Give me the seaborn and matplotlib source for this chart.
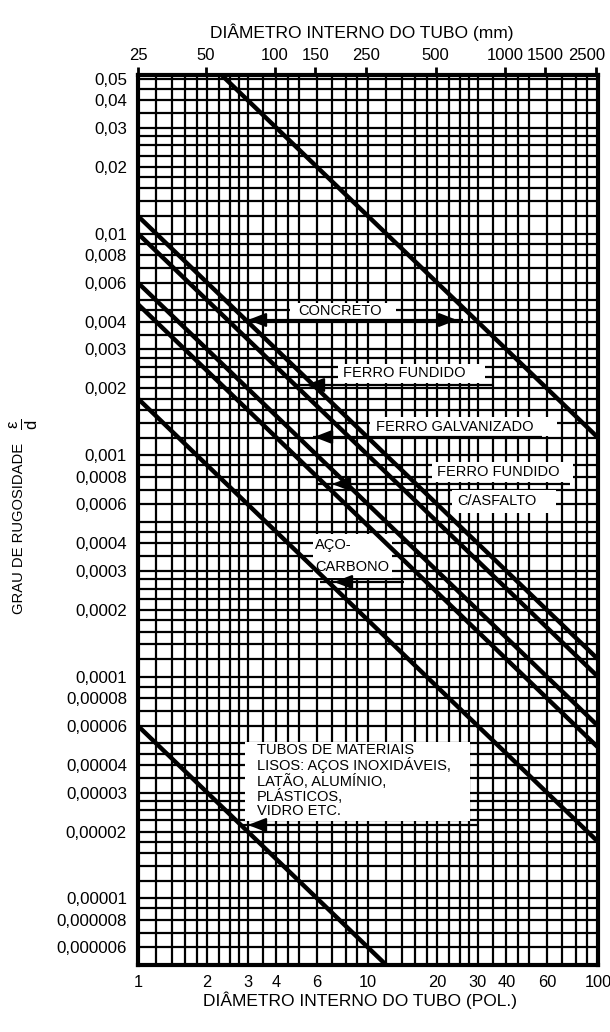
import numpy as np
import pandas as pd
import matplotlib
matplotlib.use("Agg")
import matplotlib.pyplot as plt
import matplotlib.transforms as mtransforms
import seaborn as sns
from matplotlib.patches import Rectangle

# ---------------- data ----------------
materials = ["Concreto (máx.)", "Concreto (mín.)", "Ferro fundido", "Ferro galvanizado",
             "Ferro fundido c/asfalto", "Aço-carbono", "Tubos lisos"]
roughness_in = [0.12, 0.012, 0.010, 0.006, 0.0048, 0.0018, 0.00006]   # absolute roughness (in)
diam_ends_in = [1, 100]                                                 # diameter range (in)

x_ticks = [1, 2, 3, 4, 6, 10, 20, 30, 40, 60, 100]
x_tick_labels = ["1", "2", "3", "4", "6", "10", "20", "30", "40", "60", "100"]
top_ticks_mm = [25.4, 50, 100, 150, 250, 500, 1000, 1500, 2500]
top_tick_labels = ["25", "50", "100", "150", "250", "500", "1000", "1500", "2500"]
y_ticks = [0.05, 0.04, 0.03, 0.02, 0.01, 0.008, 0.006, 0.004, 0.003, 0.002,
           0.001, 0.0008, 0.0006, 0.0004, 0.0003, 0.0002,
           0.0001, 0.00008, 0.00006, 0.00004, 0.00003, 0.00002,
           0.00001, 0.000008, 0.000006]
y_tick_labels = ["0,05", "0,04", "0,03", "0,02", "0,01", "0,008", "0,006", "0,004", "0,003", "0,002",
                 "0,001", "0,0008", "0,0006", "0,0004", "0,0003", "0,0002",
                 "0,0001", "0,00008", "0,00006", "0,00004", "0,00003", "0,00002",
                 "0,00001", "0,000008", "0,000006"]
grid_mantissas = [1, 1.2, 1.4, 1.6, 1.8, 2, 2.25, 2.5, 2.75, 3, 3.5, 4, 4.5, 5, 6, 7, 8, 9]

# ---------------- style ----------------
sns.set_theme(style="white")
plt.rcParams['font.family'] = ['Liberation Sans', 'DejaVu Sans']
plt.rcParams['text.color'] = 'black'
plt.rcParams['mathtext.fontset'] = 'custom'
plt.rcParams['mathtext.rm'] = 'Liberation Sans'
plt.rcParams['mathtext.it'] = 'Liberation Sans'

W, H = 610, 1032
fig = plt.figure(figsize=(W / 100, H / 100), dpi=100)
L, R, T, B = 138, 598, 75, 965
ax = fig.add_axes([L / W, 1 - B / H, (R - L) / W, (B - T) / H])

def A(x, y):
    return ((x - L) / (R - L), (B - y) / (B - T))

rows = []
for m, e in zip(materials, roughness_in):
    for d in diam_ends_in:
        rows.append({"material": m, "diam": d, "rel": e / d})
df = pd.DataFrame(rows)

ax.set_xscale("log")
ax.set_yscale("log")
sns.lineplot(data=df, x="diam", y="rel", hue="material", units="material",
             estimator=None, sort=False, palette=["black"] * len(materials),
             linewidth=3.2, legend=False, ax=ax, zorder=4)

xmin, xmax = 1, 100
ymin, ymax = 5.0e-6, 0.052
ax.set_xlim(xmin, xmax)
ax.set_ylim(ymin, ymax)

xgrid = [m * 10 ** k for k in range(0, 2) for m in grid_mantissas] + [100]
ygrid = [m * 10 ** k for k in range(-6, -1) for m in grid_mantissas]
ygrid = [v for v in ygrid if ymin < v < ymax]

ax.set_xticks(x_ticks)
ax.set_xticklabels(x_tick_labels)
ax.set_xticks(xgrid, minor=True)
ax.set_yticks(y_ticks)
ax.set_yticklabels(y_tick_labels)
ax.set_yticks(ygrid, minor=True)
ax.xaxis.set_minor_formatter(plt.NullFormatter())
ax.yaxis.set_minor_formatter(plt.NullFormatter())
ax.tick_params(axis="x", which="both", length=0, labelsize=11.8, pad=7, colors="black")
ax.tick_params(axis="y", which="both", length=0, labelsize=12.2, pad=8, colors="black")
ax.grid(True, which="both", color="black", linewidth=1.6)
ax.set_axisbelow(True)
for s in ax.spines.values():
    s.set_visible(True)
    s.set_color("black")
    s.set_linewidth(3)
ax.set_xlabel("")
ax.set_ylabel("")

# top axis in mm
ax2 = ax.twiny()
ax2.set_xscale("log")
ax2.set_xlim(xmin * 25.4, xmax * 25.4)
ax2.set_xticks(top_ticks_mm)
ax2.set_xticklabels(top_tick_labels)
ax2.xaxis.set_minor_locator(plt.NullLocator())
ax2.tick_params(axis="x", which="major", length=6, width=2, direction="out",
                labelsize=12, pad=3, colors="black")
for s in ax2.spines.values():
    s.set_visible(False)
# nudge the last top label inward so it stays inside the figure
last_top = ax2.xaxis.get_major_ticks()[-1].label2
last_top.set_transform(last_top.get_transform() +
                       mtransforms.ScaledTranslation(-10 / 100, 0, fig.dpi_scale_trans))

# titles
fig.text(362 / W, 1 - 32 / H, "DIÂMETRO INTERNO DO TUBO (mm)", ha="center", va="center",
         fontsize=12.5, color="black")
fig.text(360 / W, 1 - 1000 / H, "DIÂMETRO INTERNO DO TUBO (POL.)", ha="center", va="center",
         fontsize=12.5, color="black")
fig.text(19 / W, 1 - 528 / H, "GRAU DE RUGOSIDADE", rotation=90, ha="center", va="center",
         fontsize=10.6, color="black")
fig.text(24 / W, 1 - 424 / H, r"$\frac{\epsilon}{d}$", rotation=90, ha="center", va="center",
         fontsize=17, color="black")

# ---------------- annotations ----------------
def box(x0, y0, x1, y1):
    (fx0, fy1), (fx1, fy0) = A(x0, y0), A(x1, y1)
    ax.add_patch(Rectangle((fx0, fy0), fx1 - fx0, fy1 - fy0, transform=ax.transAxes,
                           facecolor="white", edgecolor="none", zorder=3))

def label(x, y, s, ha="center", **kw):
    fx, fy = A(x, y)
    ax.text(fx, fy, s, transform=ax.transAxes, ha=ha, va="center", fontsize=10.5,
            color="black", zorder=7, **kw)

def pointer(x0, x1, y, heads):
    fx0, fy = A(x0, y)
    fx1, _ = A(x1, y)
    ax.plot([fx0, fx1], [fy, fy], transform=ax.transAxes, color="black", lw=1.6,
            zorder=7, solid_capstyle="butt")
    for tip, direction in heads:
        t = A(tip, y)
        tail = A(tip - direction * 16, y)
        ax.annotate("", xy=t, xytext=tail, xycoords="axes fraction", textcoords="axes fraction",
                    arrowprops=dict(arrowstyle="-|>,head_length=0.9,head_width=0.35",
                                    color="black", lw=1.6, shrinkA=0, shrinkB=0,
                                    mutation_scale=12), zorder=8)

# CONCRETO
box(290, 303, 396, 319)
label(340, 311, "CONCRETO")
pointer(243, 463, 320, [(248, -1), (457, 1)])

# FERRO FUNDIDO
box(338, 364, 485, 383)
label(404, 373, "FERRO FUNDIDO")
pointer(297, 493, 385, [(306, -1)])

# FERRO GALVANIZADO
box(370, 417, 557, 436)
label(455, 427, "FERRO GALVANIZADO")
pointer(313, 542, 437, [(314, -1)])

# FERRO FUNDIDO C/ASFALTO
box(432, 462, 573, 482)
label(498, 472, "FERRO FUNDIDO")
box(452, 490, 556, 513)
label(497, 501, "C/ASFALTO")
pointer(316, 570, 484, [(332, -1)])

# AÇO-CARBONO
box(313, 534, 392, 578)
label(315, 545, "AÇO-", ha="left")
label(315, 567, "CARBONO", ha="left")
pointer(320, 404, 582, [(334, -1)])

# TUBOS LISOS
box(245, 742, 470, 821)
fx, fy = A(257, 743)
ax.text(fx, fy, "TUBOS DE MATERIAIS\nLISOS: AÇOS INOXIDÁVEIS,\nLATÃO, ALUMÍNIO,\nPLÁSTICOS,\nVIDRO ETC.",
        transform=ax.transAxes, ha="left", va="top", fontsize=10.5, linespacing=1.02,
        color="black", zorder=7)
pointer(240, 478, 825, [(248, -1)])

fig.savefig("out.png", dpi=100, facecolor="white")
